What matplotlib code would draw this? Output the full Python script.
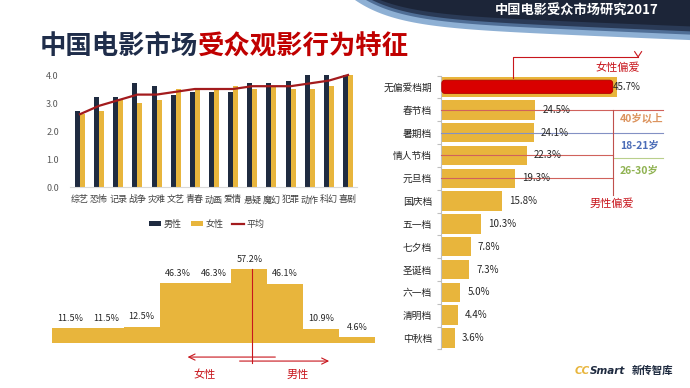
import matplotlib
matplotlib.use('Agg')
import matplotlib.pyplot as plt
import numpy as np
from matplotlib.patches import Polygon, FancyBboxPatch, Patch
from matplotlib.lines import Line2D

plt.rcParams['font.family'] = ['Noto Sans CJK SC', 'DejaVu Sans']

# ---------------- data ----------------
genres = ['综艺', '恐怖', '记录', '战争', '灾难', '文艺', '青春', '动画',
          '爱情', '悬疑', '魔幻', '犯罪', '动作', '科幻', '喜剧']
male = [2.7, 3.2, 3.2, 3.7, 3.6, 3.3, 3.4, 3.4, 3.4, 3.7, 3.7, 3.8, 4.0, 4.0, 4.0]
female = [2.6, 2.7, 3.1, 3.0, 3.1, 3.5, 3.5, 3.5, 3.6, 3.5, 3.6, 3.5, 3.5, 3.6, 4.0]
average = [2.6, 2.9, 3.1, 3.3, 3.3, 3.4, 3.5, 3.5, 3.5, 3.6, 3.6, 3.6, 3.7, 3.8, 4.0]
score_ticks = [0.0, 1.0, 2.0, 3.0, 4.0]
legend_labels = ['男性', '女性', '平均']

dist_values = [11.5, 11.5, 12.5, 46.3, 46.3, 57.2, 46.1, 10.9, 4.6]

seasons = ['无偏爱档期', '春节档', '暑期档', '情人节档', '元旦档', '国庆档',
           '五一档', '七夕档', '圣诞档', '六一档', '清明档', '中秋档']
season_share = [45.7, 24.5, 24.1, 22.3, 19.3, 15.8, 10.3, 7.8, 7.3, 5.0, 4.4, 3.6]

# ---------------- style ----------------
W, H = 690, 388
NAVY = '#1f2b40'
GOLD = '#e8b53c'
DRED = '#a31b1d'
RED = '#c8161d'
TXT = '#262626'


def rect(l, t, r, b):
    return [l / W, 1 - b / H, (r - l) / W, (b - t) / H]


fig = plt.figure(figsize=(W / 100, H / 100), dpi=100)
fig.patch.set_facecolor('white')

# background / decoration layer in pixel coords
bg = fig.add_axes([0, 0, 1, 1])
bg.set_xlim(0, W)
bg.set_ylim(H, 0)
bg.axis('off')


def edge(x0, amp, slope, scale=40):
    xs = np.linspace(x0, W, 120)
    ys = amp * (1 - np.exp(-(xs - x0) / scale)) + slope * (xs - x0)
    return xs, ys


for x0, amp, slope, col in [(355, 26, 0.042, '#8eb0d4'),
                            (366, 21, 0.042, '#4f6e96'),
                            (372, 18, 0.042, '#2a3a56'),
                            (380, 14, 0.040, '#1c2538')]:
    xs, ys = edge(x0, amp, slope)
    pts = np.vstack([np.column_stack([xs, ys]), [[W, 0], [x0, 0]]])
    bg.add_patch(Polygon(pts, closed=True, facecolor=col, edgecolor='none'))

bg.text(577, 10.5, '中国电影受众市场研究2017', color='white', fontsize=9.5,
        fontweight='bold', ha='center', va='center')

# title in two colours
t1 = bg.text(40, 47, '中国电影市场', color='#1f2d4a', fontsize=19,
             fontweight='heavy', ha='left', va='center')
fig.canvas.draw()
r = fig.canvas.get_renderer()
bb = t1.get_window_extent(renderer=r)
x_end = bb.x1 / fig.dpi * 100
bg.text(x_end, 47, '受众观影行为特征', color='#c00000', fontsize=19,
        fontweight='heavy', ha='left', va='center')

# logo
c1 = bg.text(575, 371, 'CC', color=GOLD, fontsize=7.5, fontweight='bold',
             style='italic', family='DejaVu Sans', ha='left', va='center')
fig.canvas.draw()
bb = c1.get_window_extent(renderer=r)
bg.text(bb.x1 / fig.dpi * 100, 371, 'Smart', color=NAVY, fontsize=7.5,
        fontweight='bold', style='italic', family='DejaVu Sans',
        ha='left', va='center')
bg.text(652, 371, '新传智库', color=NAVY, fontsize=7.5, fontweight='bold',
        ha='center', va='center')

# ---------------- left: genre scores ----------------
ax1 = fig.add_axes(rect(70, 69.4, 357, 187))
x = np.arange(len(genres))
bw = 0.26
ax1.bar(x - bw / 2, male, width=bw, color=NAVY, zorder=2)
ax1.bar(x + bw / 2, female, width=bw, color=GOLD, zorder=2)
ax1.plot(x, average, color=DRED, lw=1.6, zorder=3)
ax1.set_xlim(-0.52, 14.47)
ax1.set_ylim(0, 4.2)
ax1.set_yticks(score_ticks)
ax1.set_yticklabels([f'{v:.1f}' for v in score_ticks], color='#595959', fontsize=6.5)
ax1.set_xticks(x)
ax1.set_xticklabels(genres, color='#404040', fontsize=6.5)
ax1.tick_params(axis='both', length=0)
ax1.tick_params(axis='y', pad=8)
ax1.tick_params(axis='x', pad=6)
for s in ['top', 'right', 'left']:
    ax1.spines[s].set_visible(False)
ax1.spines['bottom'].set_color('#d9d9d9')
ax1.spines['bottom'].set_linewidth(0.8)

handles = [Patch(facecolor=NAVY), Patch(facecolor=GOLD), Line2D([0], [0], color=DRED, lw=1.6)]
fig.legend(handles, legend_labels, loc='center', bbox_to_anchor=(207 / W, 1 - 224 / H),
           ncol=3, frameon=False, fontsize=6.5, handlelength=1.3, handleheight=0.5,
           handletextpad=0.3, columnspacing=1.0, labelcolor='#404040')

# ---------------- bottom-left: distribution ----------------
ax2 = fig.add_axes(rect(52, 252.7, 375, 343))
pos = np.arange(len(dist_values)) + 0.5
ax2.bar(pos, dist_values, width=1.0, color=GOLD, linewidth=0)
ax2.set_xlim(0, len(dist_values))
ax2.set_ylim(0, 70)
ax2.axis('off')
for p, v in zip(pos, dist_values):
    ax2.annotate(f'{v:.1f}%', (p, v), xytext=(0, 4), textcoords='offset points',
                 ha='center', va='bottom', fontsize=6.5, color=TXT)
ax2.plot([5.57, 5.57], [dist_values[5], -15.5], color=RED, lw=0.8, clip_on=False)
ax2.annotate('', xy=(3.70, -10.9), xytext=(6.30, -10.9), annotation_clip=False,
             arrowprops=dict(arrowstyle='->,head_length=0.45,head_width=0.22', color=RED, lw=0.8))
ax2.annotate('', xy=(7.80, -14.0), xytext=(5.15, -14.0), annotation_clip=False,
             arrowprops=dict(arrowstyle='->,head_length=0.45,head_width=0.22', color=RED, lw=0.8))
ax2.text(4.26, -24.8, '女性', color=RED, fontsize=8, ha='center', va='center', clip_on=False)
ax2.text(6.85, -24.8, '男性', color=RED, fontsize=8, ha='center', va='center', clip_on=False)

# ---------------- right: seasons ----------------
ax3 = fig.add_axes(rect(441, 75.6, 672, 349.4))
rows = np.arange(len(seasons))
ax3.barh(rows, season_share, height=0.85, color=GOLD, zorder=2)
ax3.set_xlim(0, 60)
ax3.set_ylim(len(seasons) - 0.5, -0.5)
ax3.set_yticks(rows)
ax3.set_yticklabels(seasons, fontsize=7, color=TXT)
ax3.set_yticks(np.arange(-0.5, len(seasons), 1), minor=True)
ax3.tick_params(axis='y', which='major', length=0, pad=6.5)
ax3.tick_params(axis='y', which='minor', length=3, color='#bfbfbf', width=0.8)
ax3.set_xticks([])
for s in ['top', 'right', 'bottom']:
    ax3.spines[s].set_visible(False)
ax3.spines['left'].set_color('#bfbfbf')
ax3.spines['left'].set_linewidth(0.8)

# highlight on first bar
ax3.add_patch(FancyBboxPatch((0.2, -0.30), season_share[0] - 1.3, 0.58,
                             boxstyle='round,pad=0,rounding_size=0.8',
                             mutation_aspect=0.17, facecolor='#d90000',
                             edgecolor='#b00000', lw=0.6, zorder=3))
for i, v in enumerate(season_share):
    off = -3 if i == 0 else 5
    ax3.annotate(f'{v:.1f}%', (v, i), xytext=(off, 0), textcoords='offset points',
                 ha='left', va='center', fontsize=7, color=TXT, zorder=5)

# annotation lines
LRED = '#d0625c'
ax3.plot([18.7, 18.7, 51.2], [-0.39, -1.32, -1.32], color=RED, lw=0.8, clip_on=False, zorder=4)
ax3.plot([50.3, 51.2, 52.1], [-1.55, -1.32, -1.55], color=RED, lw=0.8, clip_on=False, zorder=4)
ax3.text(46.0, -0.83, '女性偏爱', color=RED, fontsize=8, ha='center', va='center')
ax3.plot([0, 57.7], [1, 1], color=LRED, lw=0.8, zorder=4, clip_on=False)
ax3.plot([0, 57.7], [2, 2], color='#8391c4', lw=0.8, zorder=4, clip_on=False)
ax3.plot([0, 44.7], [3, 3], color=LRED, lw=0.8, zorder=4, clip_on=False)
ax3.plot([0, 44.7], [4, 4], color=LRED, lw=0.8, zorder=4, clip_on=False)
ax3.plot([44.7, 57.7], [3.11, 3.11], color='#b9cf8c', lw=0.8, zorder=4, clip_on=False)
ax3.plot([44.7, 44.7], [1, 4.74], color='#c0504d', lw=0.8, zorder=4, clip_on=False)
ax3.text(44.4, 5.13, '男性偏爱', color=RED, fontsize=8, ha='center', va='center')
ax3.text(46.5, 1.36, '40岁以上', color='#dc945f', fontsize=7.5, fontweight='bold',
         ha='left', va='center')
ax3.text(46.5, 2.54, '18-21岁', color='#4b6cb7', fontsize=7.5, fontweight='bold',
         ha='left', va='center')
ax3.text(46.5, 3.64, '26-30岁', color='#8fb251', fontsize=7.5, fontweight='bold',
         ha='left', va='center')

fig.savefig('out.png', dpi=100, facecolor='white')
